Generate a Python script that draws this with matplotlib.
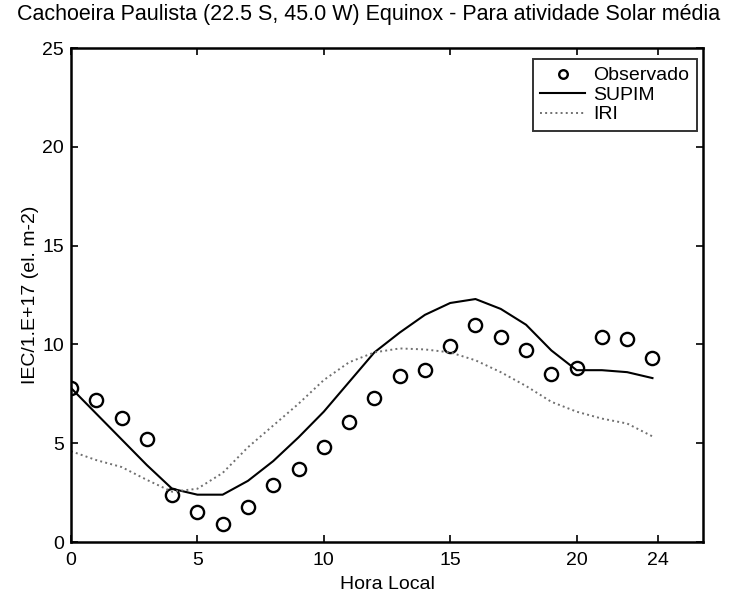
import matplotlib
matplotlib.use('Agg')
import matplotlib.pyplot as plt
import numpy as np

plt.rcParams['font.family'] = ['Liberation Sans', 'DejaVu Sans']

# hora local (h)
hora = list(range(0, 24))

# TEC observado
observado = [7.8, 7.2, 6.3, 5.2, 2.4, 1.5, 0.9, 1.8, 2.9, 3.7, 4.8, 6.1,
             7.3, 8.4, 8.7, 9.9, 11.0, 10.4, 9.7, 8.5, 8.8, 10.4, 10.3, 9.3]

# modelo SUPIM
supim = [7.8, 6.5, 5.2, 3.9, 2.7, 2.4, 2.4, 3.1, 4.1, 5.3, 6.6, 8.1,
         9.6, 10.6, 11.5, 12.1, 12.3, 11.8, 11.0, 9.7, 8.7, 8.7, 8.6, 8.3]

# modelo IRI
iri = [4.6, 4.15, 3.8, 3.15, 2.55, 2.7, 3.5, 4.8, 5.9, 7.0, 8.2, 9.1,
       9.6, 9.8, 9.75, 9.6, 9.2, 8.6, 7.9, 7.1, 6.6, 6.25, 6.0, 5.35]

xticks = [0, 5, 10, 15, 20, 23.2]
xticklabels = ['0', '5', '10', '15', '20', '24']
yticks = [0, 5, 10, 15, 20, 25]

fs = 14

fig = plt.figure(figsize=(7.37, 6.01), dpi=100)
ax = fig.add_axes([0.0963, 0.098, 0.8576, 0.822])

ax.plot(hora, observado, 'o', mfc='none', mec='black', ms=9.5, mew=1.7, label='Observado')
ax.plot(hora, supim, '-', color='black', lw=1.5, label='SUPIM')
ax.plot(hora, iri, ':', color='#707070', lw=1.4, label='IRI')

ax.set_xlim(0, 25)
ax.set_ylim(0, 25)
ax.set_xticks(xticks)
ax.set_xticklabels(xticklabels)
ax.set_yticks(yticks)
ax.tick_params(direction='in', top=True, right=True, length=5, width=1.2, labelsize=fs, pad=7)
ax.tick_params(axis='y', pad=5)
for s in ax.spines.values():
    s.set_linewidth(1.8)

ax.set_xlabel('Hora Local', fontsize=fs, labelpad=5)
ax.set_ylabel('IEC/1.E+17 (el. m-2)', fontsize=fs)
ax.yaxis.set_label_coords(-0.05, 0.5)
fig.text(0.5, 0.976, 'Cachoeira Paulista (22.5 S, 45.0 W) Equinox - Para atividade Solar média',
         ha='center', va='center', fontsize=15.5)

leg = ax.legend(loc='upper right', bbox_to_anchor=(0.99, 0.978), fontsize=fs, frameon=True,
                fancybox=False, edgecolor='black', borderpad=0.4, labelspacing=0.1,
                handlelength=2.3, handletextpad=0.4, borderaxespad=0, markerscale=0.65)
leg.get_frame().set_linewidth(1.4)

fig.savefig('out.png', dpi=100)
